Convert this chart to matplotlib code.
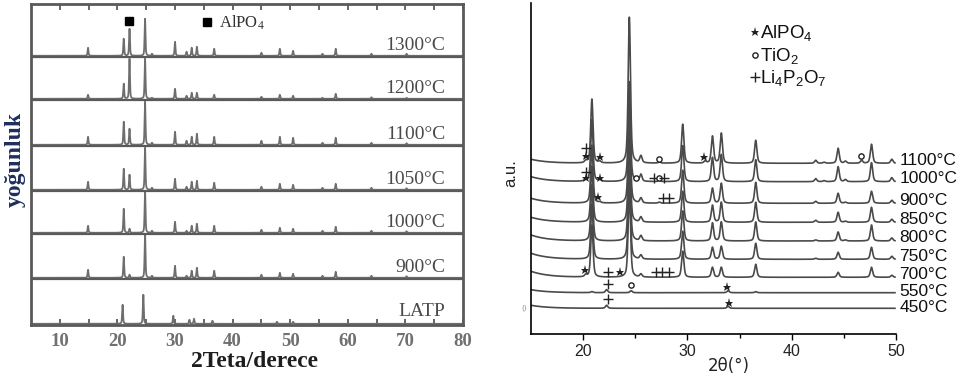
import numpy as np
import matplotlib.pyplot as plt

# ---- left: LATP and samples sintered at 900-1300 C ----
left_names = ['1300°C', '1200°C', '1100°C', '1050°C', '1000°C', '900°C']
left_offsets = [268, 225, 179, 134, 91, 46]
left_pos = [14.9, 21.1, 22.1, 24.8, 26.0, 30.0, 32.0, 32.9, 33.8, 36.8,
            45.0, 48.2, 50.5, 55.6, 57.9, 64.1, 70.2]
left_heights = [
    [8, 17, 27, 37, 2, 14, 4, 8, 9, 7, 3, 7, 5, 2, 7, 2, 2],
    [4, 15, 40, 40, 1, 10, 3, 6, 6, 4, 2, 4, 3, 1, 5, 1.5, 1],
    [8, 23, 16, 43, 2, 13, 4, 8, 11, 8, 4, 8, 7, 2, 7, 2, 1.5],
    [8, 21, 15, 42, 2, 11, 3, 8, 9, 7, 3, 6, 5, 2, 6, 2, 1.5],
    [7, 24, 4, 42, 2, 11, 2, 7, 9, 7, 3, 5, 4, 2, 6, 2, 1.5],
    [8, 21, 3, 44, 2, 12, 2, 7, 10, 7, 3, 5, 4, 2, 6, 2, 1.5],
]
latp_pos = [20.9, 24.5, 29.7, 32.5, 33.3, 36.5, 47.7, 50.5]
latp_heights = [19, 29, 8, 4, 5, 3, 2, 2]
alpo4_peak = 22.0

# ---- right: heat-treatment series 450-1100 C ----
right_names = ['1100°C', '1000°C', '900°C', '850°C', '800°C', '750°C', '700°C']
right_offsets = [170.7, 152.3, 130.7, 111.7, 93.0, 74.7, 56.7]
right_bg = [4, 5, 5, 5, 6, 6, 6]
right_pos = [20.25, 20.84, 21.6, 24.43, 25.54, 27.3, 29.55, 31.7, 32.4, 33.25,
             36.55, 42.3, 43.1, 44.45, 45.15, 46.7, 47.65, 49.6]
right_heights = [
    [2, 64, 1.5, 146, 7, 1, 39, 2, 27, 30, 23, 3, 1, 15, 2, 3, 19, 4],
    [2, 62, 1.5, 100, 7, 1, 36, 0, 24, 27, 22, 3, 1, 15, 2, 0, 19, 4],
    [0, 58, 1, 98, 5, 1, 33, 0, 15, 20, 21, 2, 0, 10, 1, 0, 12, 3],
    [0, 56, 0, 95, 5, 0, 31, 0, 17, 20, 20, 2, 0, 10, 1, 0, 15, 3],
    [0, 56, 0, 95, 5, 0, 30, 0, 18, 19, 19, 1, 0, 9, 1, 0, 16, 3],
    [0, 55, 0, 92, 4, 0, 28, 0, 12, 13, 16, 1, 0, 7, 0, 0, 12, 3],
    [2, 52, 0, 90, 3, 0, 26, 0, 10, 10, 13, 0, 0, 5, 0, 0, 10, 2],
]
amorph_names = ['550°C', '450°C']
amorph_offsets = [41.3, 25.7]
amorph_bg = [3, 3]
amorph_pos = [20.84, 22.25, 24.6, 33.9, 36.55]
amorph_heights = [
    [1, 3, 2, 2, 1],
    [0, 3, 0, 2, 0],
]

# phase marks on the right patterns: (2theta, height, symbol)
phase_marks = [
    (20.3, 186, '+'), (20.3, 178, '*'), (21.6, 177, '*'), (27.3, 175, 'o'),
    (31.6, 177, '*'), (46.6, 178, 'o'),
    (20.3, 162, '+'), (20.3, 156, '*'), (21.6, 156, '*'), (25.1, 156, 'o'),
    (26.8, 156, '+'), (27.3, 156, 'o'), (27.8, 156, '+'),
    (21.4, 137, '*'), (27.7, 136, '+'), (28.25, 136, '+'),
    (20.2, 64, '*'), (22.4, 62, '+'), (23.5, 62, '*'),
    (27.0, 62, '+'), (27.6, 62, '+'), (28.2, 62, '+'),
    (22.4, 50, '+'), (24.6, 49, 'o'), (33.8, 47, '*'),
    (22.4, 35, '+'), (33.95, 31, '*'),
]
legend_entries = [('*', r'AlPO$\mathregular{_4}$'),
                  ('o', r'TiO$\mathregular{_2}$'),
                  ('+', r'Li$\mathregular{_4}$P$\mathregular{_2}$O$\mathregular{_7}$')]


def pattern(x, pos, heights, hw):
    y = np.zeros_like(x)
    for p, h in zip(pos, heights):
        d = (x - p) / hw
        y += h * (0.5 * np.exp(-np.log(2) * d ** 2) + 0.5 / (1 + d ** 2))
    return y


def draw_mark(ax, x, y, sym):
    if sym == '*':
        ax.plot(x, y, marker='*', ms=6.5, color='#222222', mew=0, clip_on=False)
    elif sym == 'o':
        ax.plot(x, y, marker='o', ms=3.8, mfc='white', mec='#222222', mew=1.0, clip_on=False)
    else:
        ax.plot(x, y, marker='+', ms=7, color='#222222', mew=1.0, clip_on=False)


fig = plt.figure(figsize=(9.62, 3.78), dpi=100)

# ================= left panel =================
serif = 'Liberation Serif'
axl = fig.add_axes([31 / 962, 53 / 378, 432 / 962, 321 / 378])
xl = np.linspace(5, 80, 7501)
frame_c = '#5a5a5a'
line_c = '#6e6e6e'

for name, off, hts in zip(left_names, left_offsets, left_heights):
    axl.axhline(off, color=frame_c, lw=1.6, zorder=3)
    axl.plot(xl, off + 1.2 + pattern(xl, left_pos, hts, 0.09), color=line_c, lw=1.3)
    axl.text(76.9, off + 11.5, name, ha='right', va='center', fontsize=14,
             family=serif, color='#4a4a4a')
axl.plot(xl, 1.2 + pattern(xl, latp_pos, latp_heights, 0.09), color=line_c, lw=1.3)
axl.text(76.9, 13, 'LATP', ha='right', va='center', fontsize=14, family=serif, color='#4a4a4a')

axl.plot(alpo4_peak, 304, marker='s', ms=5.5, color='black')
axl.plot(35.55, 303, marker='s', ms=5.5, color='black')
axl.text(37.6, 302, r'AlPO$\mathregular{_4}$', ha='left', va='center', fontsize=12,
         family=serif, color='#333333')

axl.set_xlim(5, 80)
axl.set_ylim(0, 321)
axl.set_yticks([])
axl.set_xticks(range(10, 81, 10))
axl.set_xticks(range(15, 80, 10), minor=True)
axl.tick_params(axis='x', which='both', direction='in', top=True, length=4, width=1.3,
                color=frame_c, pad=6)
for lab in axl.get_xticklabels():
    lab.set_family(serif)
    lab.set_fontsize(13.5)
    lab.set_fontweight('bold')
    lab.set_color('#707070')
for sp in axl.spines.values():
    sp.set_color(frame_c)
    sp.set_linewidth(2)

axl.text(0.518, -0.114, '2Teta/derece', transform=axl.transAxes, ha='center', va='center',
         fontsize=17, fontweight='bold', family=serif, color='#1e1e1e')
axl.text(-0.036, 0.515, 'yoğunluk', transform=axl.transAxes, ha='center', va='center',
         rotation=90, fontsize=17, fontweight='bold', family=serif, color='#1f2f5c')

# ================= right panel =================
sans = 'Liberation Sans'
plt.rcParams['mathtext.fontset'] = 'custom'
plt.rcParams['mathtext.rm'] = sans
axr = fig.add_axes([531 / 962, 44 / 378, 365 / 962, 331 / 378])
xr = np.linspace(15, 49.9, 3491)
curve_c = '#4a4a4a'

for name, off, bg, hts in zip(right_names, right_offsets, right_bg, right_heights):
    y = off + bg * np.exp(-(xr - 15) / 1.6) + pattern(xr, right_pos, hts, 0.13)
    axr.plot(xr, y, color=curve_c, lw=1.2)
    axr.text(50.3, off + 3, name, ha='left', va='center', fontsize=12.5, family=sans,
             color='#111111', clip_on=False)

for name, off, bg, hts in zip(amorph_names, amorph_offsets, amorph_bg, amorph_heights):
    y = off + bg * np.exp(-(xr - 15) / 1.6) + pattern(xr, amorph_pos, hts, 0.13)
    axr.plot(xr, y, color=curve_c, lw=1.2)
    axr.text(50.3, off + 1, name, ha='left', va='center', fontsize=12.5, family=sans,
             color='#111111', clip_on=False)

for x, y, sym in phase_marks:
    draw_mark(axr, x, y, sym)

for i, (sym, label) in enumerate(legend_entries):
    ly = 302 - i * 22.5
    draw_mark(axr, 36.5, ly, sym)
    axr.text(36.95, ly - 1, label, ha='left', va='center', fontsize=13.5, family=sans,
             color='#111111')

axr.text(14.6, 26, '()', ha='right', va='center', fontsize=5, color='#888888', clip_on=False)

axr.set_xlim(15, 50)
axr.set_ylim(0, 331)
axr.set_yticks([])
axr.set_xticks([20, 30, 40, 50])
axr.set_xticks([25, 35, 45], minor=True)
axr.tick_params(axis='x', which='major', direction='out', length=4.5, width=1, pad=3)
axr.tick_params(axis='x', which='minor', direction='out', length=3, width=1)
for lab in axr.get_xticklabels():
    lab.set_family(sans)
    lab.set_fontsize(11.5)
    lab.set_color('#222222')
axr.spines['top'].set_visible(False)
axr.spines['right'].set_visible(False)
axr.spines['left'].set_linewidth(1.2)
axr.spines['bottom'].set_linewidth(1.2)

axr.text(-0.055, 0.486, 'a.u.', transform=axr.transAxes, ha='center', va='center',
         rotation=90, fontsize=12, family=sans, color='#222222')
axr.text(0.542, -0.097, '2θ(°)', transform=axr.transAxes, ha='center', va='center',
         fontsize=12, family='DejaVu Sans', color='#222222')

fig.savefig('out.png', dpi=100)
